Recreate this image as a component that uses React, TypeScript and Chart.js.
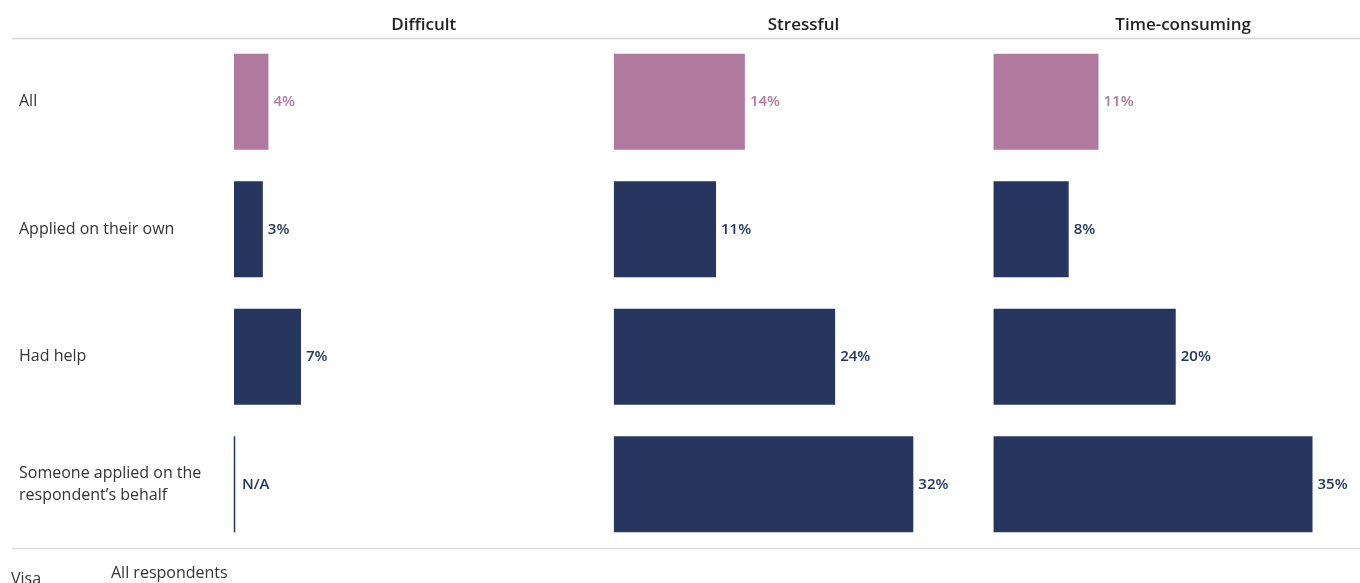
import { useEffect, useRef } from 'react';
import { Chart, registerables } from 'chart.js';

Chart.register(...registerables);

const groups: (string | string[])[] = [
  'All',
  'Applied on their own',
  'Had help',
  ['Someone applied on the', 'respondent\u2019s behalf'],
];
const measures = ['Difficult', 'Stressful', 'Time-consuming'];

const difficult: (number | null)[] = [3.7, 3.1, 7.2, null];
const stressful: (number | null)[] = [14.1, 11.0, 23.8, 32.2];
const timeConsuming: (number | null)[] = [11.3, 8.1, 19.6, 34.3];

const difficultLabels = ['4%', '3%', '7%', 'N/A'];
const stressfulLabels = ['14%', '11%', '24%', '32%'];
const timeConsumingLabels = ['11%', '8%', '20%', '35%'];

const footerLeft = 'Visa';
const footerRight = 'All respondents';

const PINK = '#B07A9F';
const NAVY = '#26365E';
const barColors = [PINK, NAVY, NAVY, NAVY];
const FONT = "'Open Sans', 'Noto Sans', sans-serif";

const seriesValues = [difficult, stressful, timeConsuming];
const seriesLabels = [difficultLabels, stressfulLabels, timeConsumingLabels];

const decorPlugin = {
  id: 'decor',
  beforeDraw(chart: any) {
    const { ctx, chartArea } = chart;
    ctx.save();
    ctx.strokeStyle = '#d6d6d6';
    ctx.lineWidth = 1.5;
    ctx.beginPath();
    ctx.moveTo(12, chartArea.top + 0.5);
    ctx.lineTo(1360, chartArea.top + 0.5);
    ctx.stroke();
    ctx.strokeStyle = '#dcdcdc';
    ctx.lineWidth = 1.5;
    ctx.beginPath();
    ctx.moveTo(12, chartArea.bottom + 0.5);
    ctx.lineTo(1360, chartArea.bottom + 0.5);
    ctx.stroke();
    ctx.fillStyle = '#333';
    ctx.font = `16px ${FONT}`;
    ctx.textBaseline = 'alphabetic';
    ctx.textAlign = 'left';
    ctx.fillText(footerRight, 111, chartArea.bottom + 30);
    ctx.fillText(footerLeft, 11, chartArea.bottom + 36);
    ctx.restore();
  },
  afterDatasetsDraw(chart: any) {
    const { ctx } = chart;
    ctx.save();
    ctx.textBaseline = 'middle';
    ctx.textAlign = 'left';
    ctx.font = `600 15px ${FONT}`;
    chart.data.datasets.forEach((ds: any, d: number) => {
      const meta = chart.getDatasetMeta(d);
      const xScale = chart.scales[meta.xAxisID];
      const yScale = chart.scales[meta.yAxisID];
      ds.data.forEach((v: number | null, i: number) => {
        const y = yScale.getPixelForValue(i);
        let x: number;
        if (v === null || v === undefined) {
          x = xScale.getPixelForValue(0);
          const ref = chart.getDatasetMeta(1).data[i] as any;
          const h = ref ? ref.height : 96;
          ctx.strokeStyle = barColors[i];
          ctx.lineWidth = 1.5;
          ctx.beginPath();
          ctx.moveTo(x + 0.5, y - h / 2);
          ctx.lineTo(x + 0.5, y + h / 2);
          ctx.stroke();
          x += 3;
        } else {
          x = (meta.data[i] as any).x;
        }
        ctx.fillStyle = barColors[i];
        ctx.fillText(seriesLabels[d][i], x + 5, y);
      });
    });
    ctx.restore();
  },
};

function xAxis(title: string) {
  return {
    type: 'linear',
    position: 'top',
    stack: 'panels',
    stackWeight: 1,
    min: 0,
    max: 40.8,
    grid: { display: false },
    border: { display: false },
    ticks: { display: false },
    title: {
      display: true,
      text: title,
      color: '#222',
      font: { family: FONT, size: 17, weight: '600', lineHeight: 1.2 },
      padding: { top: 15, bottom: 0 },
    },
    afterFit: (s: any) => {
      s.height = 38;
    },
  };
}

export default function App() {
  const ref = useRef<HTMLCanvasElement | null>(null);
  useEffect(() => {
    document.body.style.margin = '0';
    const canvas = ref.current!;
    const chart = new Chart(canvas, {
      type: 'bar',
      data: {
        labels: groups as any,
        datasets: seriesValues.map((vals, d) => ({
          label: measures[d],
          data: vals,
          xAxisID: 'x' + d,
          yAxisID: 'y',
          backgroundColor: barColors,
          borderWidth: 0,
          grouped: false,
          barPercentage: 0.753,
          categoryPercentage: 1,
        })),
      },
      options: {
        indexAxis: 'y',
        animation: false,
        responsive: false,
        maintainAspectRatio: false,
        layout: { padding: { left: 19, right: 0, top: 0, bottom: 35 } },
        plugins: {
          legend: { display: false },
          tooltip: { enabled: false },
        },
        scales: {
          y: {
            type: 'category',
            position: 'left',
            grid: { display: false },
            border: { display: false },
            ticks: {
              crossAlign: 'far',
              color: '#333',
              font: { family: FONT, size: 16, lineHeight: 1.375 },
            },
            afterFit: (s: any) => {
              s.width = 215;
            },
          },
          x2: xAxis(measures[2]),
          x1: xAxis(measures[1]),
          x0: xAxis(measures[0]),
        } as any,
      },
      plugins: [decorPlugin],
    } as any);
    return () => chart.destroy();
  }, []);
  return (
    <div
      style={{
        position: 'fixed',
        left: 0,
        top: 0,
        width: 1360,
        height: 583,
        overflow: 'hidden',
        background: '#fff',
      }}
    >
      <canvas ref={ref} width={1373} height={583} style={{ width: 1373, height: 583, display: 'block' }} />
    </div>
  );
}
